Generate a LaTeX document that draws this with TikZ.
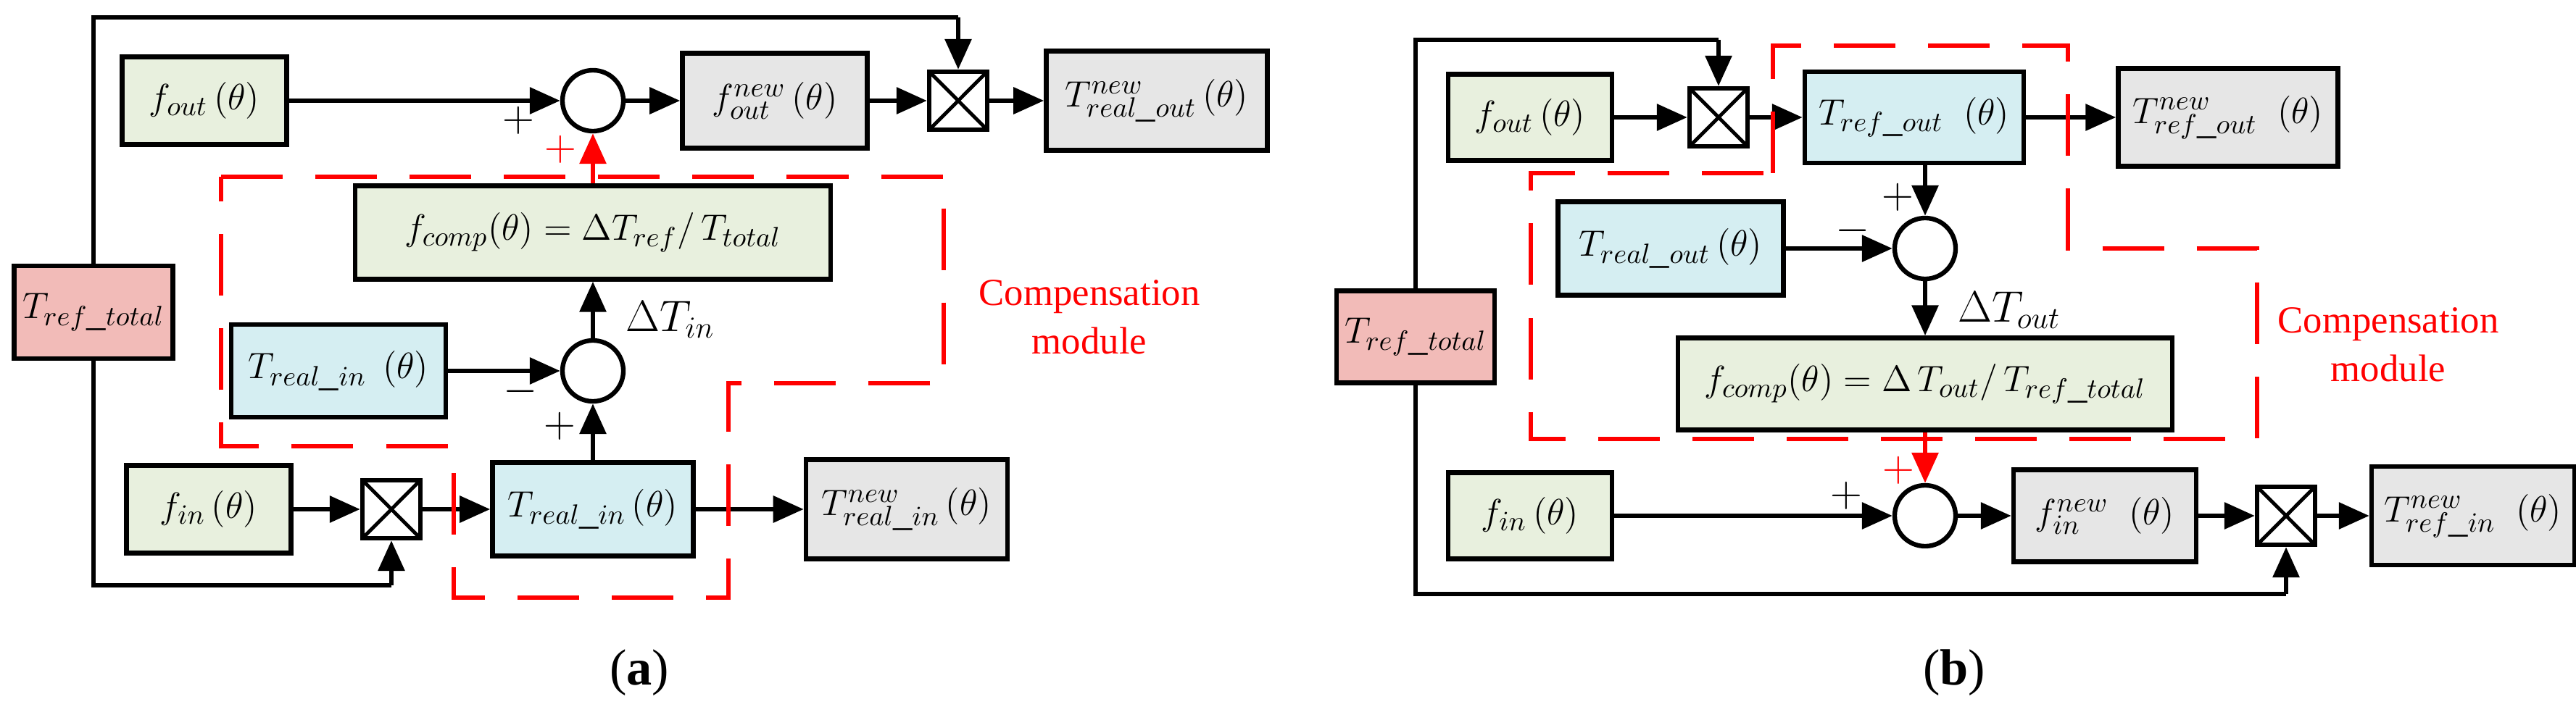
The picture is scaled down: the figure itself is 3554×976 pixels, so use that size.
\documentclass[tikz,border=0pt]{standalone}
\usepackage{fontspec}
\setmainfont{Liberation Serif}
\usetikzlibrary{arrows.meta,calc}
\definecolor{cg}{HTML}{E8F0DE}
\definecolor{cb}{HTML}{D5EEF2}
\definecolor{cy}{HTML}{E6E6E6}
\definecolor{cp}{HTML}{F2BBB8}
\begin{document}
\begin{tikzpicture}[x=0.01cm,y=-0.01cm,
  every node/.style={font=\fontsize{15}{18}\selectfont},
  box/.style={draw,line width=1.8pt,inner sep=0pt},
  sum/.style={draw,circle,line width=1.8pt,minimum size=0.84cm,inner sep=0pt},
  mult/.style={draw,line width=1.8pt,minimum size=0.8cm,inner sep=0pt,
    path picture={\draw[line width=1.4pt] ($(path picture bounding box.north west)+(0.1,-0.1)$) -- ($(path picture bounding box.south east)+(-0.1,0.1)$);
    \draw[line width=1.4pt] ($(path picture bounding box.north east)+(-0.1,-0.1)$) -- ($(path picture bounding box.south west)+(0.1,0.1)$);}},
  ar/.style={line width=1.8pt,-{Triangle[length=0.42cm,width=0.36cm]}},
  ln/.style={line width=1.8pt},
  rar/.style={red,line width=1.8pt,-{Triangle[length=0.42cm,width=0.36cm]}},
  dsh/.style={red,line width=1.6pt,dash pattern=on 0.85cm off 0.45cm},
  red text/.style={red,font=\fontsize{15}{19}\selectfont,align=center}]
\useasboundingbox (0,0) rectangle (3554,976);
% ---------------- (a) ----------------
\node[box,fill=cp,minimum width=2.19cm,minimum height=1.28cm] (atr) at (129,431) {$T_{ref\_total}$};
\node[box,fill=cg,minimum width=2.27cm,minimum height=1.21cm] (afo) at (282,139) {$f_{out}\,(\theta)$};
\node[sum] (as1) at (818,139) {};
\node[box,fill=cy,minimum width=2.55cm,minimum height=1.31cm] (afn) at (1069,139) {$f^{new}_{out}\,(\theta)$};
\node[mult] (am1) at (1322,139) {};
\node[box,fill=cy,minimum width=3.05cm,minimum height=1.37cm] (aton) at (1596,139) {$T^{new}_{real\_out}\,(\theta)$};
\node[box,fill=cg,minimum width=6.56cm,minimum height=1.29cm] (afc) at (818,321) {$f_{comp}(\theta)=\Delta T_{ref}\big/\,T_{total}$\hspace{0.8cm}};
\node[box,fill=cb,minimum width=2.96cm,minimum height=1.28cm] (ari) at (467,512) {$T_{real\_in}\;\,(\theta)$};
\node[sum] (as2) at (818,512) {};
\node[box,fill=cg,minimum width=2.27cm,minimum height=1.21cm] (afi) at (288,703) {$f_{in}\,(\theta)$};
\node[mult] (am2) at (540,703) {};
\node[box,fill=cb,minimum width=2.77cm,minimum height=1.29cm] (ari2) at (818,703) {$T_{real\_in}\,(\theta)$};
\node[box,fill=cy,minimum width=2.78cm,minimum height=1.37cm] (arin) at (1251,703) {$T^{new}_{real\_in}\,(\theta)$};
\coordinate (a1) at (129,24); \coordinate (a2) at (1322,24);
\coordinate (a3) at (129,808); \coordinate (a4) at (540,808);
\draw[ln] (atr.north) -- (a1) -- (a2);
\draw[ar] (a2) -- (am1.north);
\draw[ln] (atr.south) -- (a3) -- (a4);
\draw[ar] (a4) -- (am2.south);
\draw[ar] (afo) -- (as1);
\draw[ar] (as1) -- (afn);
\draw[ar] (afn) -- (am1);
\draw[ar] (am1) -- (aton);
\draw[rar] (afc) -- (as1);
\draw[ar] (as2) -- (afc);
\draw[ar] (ari) -- (as2);
\draw[ar] (ari2) -- (as2);
\draw[ar] (afi) -- (am2);
\draw[ar] (am2) -- (ari2);
\draw[ar] (ari2) -- (arin);
\node[font=\fontsize{19}{22}\selectfont] at (715,166) {$+$};
\node[red,font=\fontsize{19}{22}\selectfont] at (773,206) {$+$};
\node[font=\fontsize{19}{22}\selectfont] at (718,540) {$-$};
\node[font=\fontsize{19}{22}\selectfont] at (772,588) {$+$};
\node[font=\fontsize{17}{20}\selectfont] at (925,441) {$\Delta T_{in}$};
\draw[dsh] (305,244) -- (1302,244) -- (1302,529) -- (1005,529) -- (1005,825) -- (626,825) -- (626,616) -- (305,616) -- cycle;
\node[red text] (acm) at (1503,438) {Compensation\\module};
\node[font=\fontsize{20}{24}\selectfont] (alab) at (882,929) {(\textbf{a})};
% ---------------- (b) ----------------
\node[box,fill=cp,minimum width=2.18cm,minimum height=1.27cm] (btr) at (1953,465) {$T_{ref\_total}$};
\node[box,fill=cg,minimum width=2.26cm,minimum height=1.19cm] (bfo) at (2111,162) {$f_{out}\,(\theta)$};
\node[mult] (bm1) at (2371,162) {};
\node[box,fill=cb,minimum width=3.02cm,minimum height=1.26cm] (bro) at (2641,162) {$T_{ref\_out}\;\;(\theta)$};
\node[box,fill=cy,minimum width=3.03cm,minimum height=1.35cm] (bron) at (3074,162) {$T^{new}_{ref\_out}\;\;(\theta)$};
\node[sum] (bs1) at (2656,343) {};
\node[box,fill=cb,minimum width=3.11cm,minimum height=1.29cm] (brl) at (2305,343) {$T_{real\_out}\,(\theta)$};
\node[box,fill=cg,minimum width=6.82cm,minimum height=1.27cm] (bfc) at (2656,530) {$f_{comp}(\theta)=\Delta\,T_{out}\big/\,T_{ref\_total}$};
\node[box,fill=cg,minimum width=2.26cm,minimum height=1.19cm] (bfi) at (2111,712) {$f_{in}\,(\theta)$};
\node[sum] (bs2) at (2656,712) {};
\node[box,fill=cy,minimum width=2.52cm,minimum height=1.27cm] (bfn) at (2904,712) {$f^{new}_{in}\;\;(\theta)$};
\node[mult] (bm2) at (3154,712) {};
\node[box,fill=cy,minimum width=2.80cm,minimum height=1.36cm] (brin) at (3412,712) {$T^{new}_{ref\_in}\;\;(\theta)$};
\coordinate (b1) at (1953,55); \coordinate (b2) at (2371,55);
\coordinate (b3) at (1953,820); \coordinate (b4) at (3154,820);
\draw[ln] (btr.north) -- (b1) -- (b2);
\draw[ar] (b2) -- (bm1.north);
\draw[ln] (btr.south) -- (b3) -- (b4);
\draw[ar] (b4) -- (bm2.south);
\draw[ar] (bfo) -- (bm1);
\draw[ar] (bm1) -- (bro);
\draw[ar] (bro) -- (bron);
\draw[ar] (bro.south -| bs1) -- (bs1);
\draw[ar] (brl) -- (bs1);
\draw[ar] (bs1) -- (bfc.north -| bs1);
\draw[rar] (bfc.south -| bs2) -- (bs2);
\draw[ar] (bfi) -- (bs2);
\draw[ar] (bs2) -- (bfn);
\draw[ar] (bfn) -- (bm2);
\draw[ar] (bm2) -- (brin);
\node[font=\fontsize{19}{22}\selectfont] at (2618,272) {$+$};
\node[font=\fontsize{19}{22}\selectfont] at (2556,318) {$-$};
\node[font=\fontsize{19}{22}\selectfont] at (2547,684) {$+$};
\node[red,font=\fontsize{19}{22}\selectfont] at (2619,649) {$+$};
\node[font=\fontsize{17}{20}\selectfont] at (2772,428) {$\Delta T_{out}$};
\draw[dsh] (2446,239) -- (2446,63) -- (2853,63) -- (2853,343) -- (3114,343) -- (3114,606) -- (2112,606) -- (2112,239) -- cycle;
\node[red text] (bcm) at (3295,476) {Compensation\\module};
\node[font=\fontsize{20}{24}\selectfont] (blab) at (2696,929) {(\textbf{b})};
\end{tikzpicture}
\end{document}
